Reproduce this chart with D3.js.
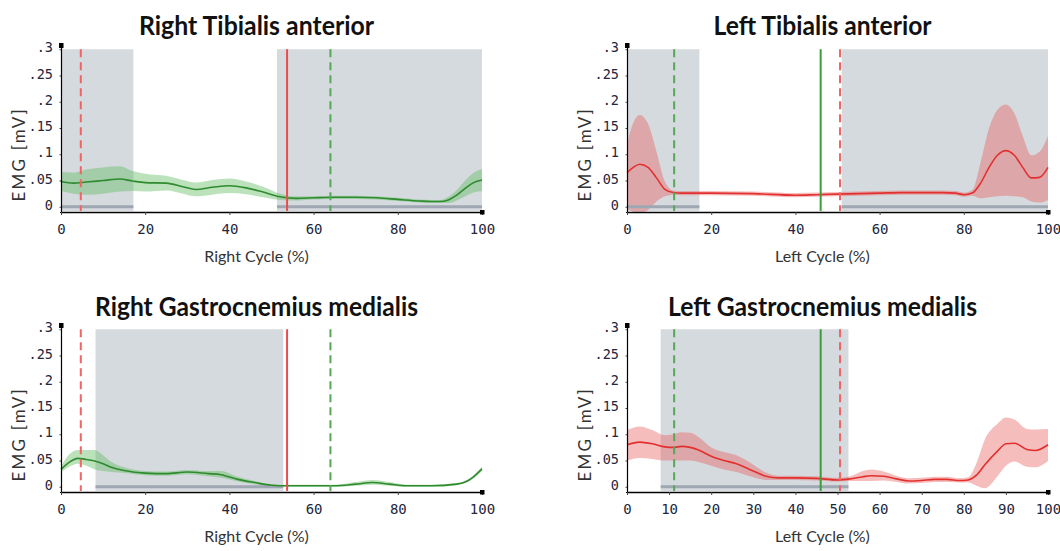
<!DOCTYPE html>
<html>
<head>
<meta charset="utf-8">
<script src="https://cdn.jsdelivr.net/npm/d3@7"></script>
<style>
  body { margin: 0; background: #fff; }
  svg { display: block; }
  .title { font-family: Lato, "Open Sans", sans-serif; font-weight: bold; fill: #111; }
  .axlabel { font-family: Lato, "Open Sans", sans-serif; fill: #333; }
  .tick text { font-family: "DejaVu Sans Mono", monospace; fill: #23263c; }
</style>
</head>
<body>
<svg id="chart"></svg>
<script>
// ---- data ----
const yTicks = [0, 0.05, 0.1, 0.15, 0.2, 0.25, 0.3];
const yTickLabels = ["0", ".05", ".1", ".15", ".2", ".25", ".3"];
const xTicksTA = [0, 20, 40, 60, 80, 100];
const xTicksLGM = [0, 10, 20, 30, 40, 50, 60, 70, 80, 90, 100];

// Right Tibialis anterior
const rtaPct  = [0, 3, 6, 10, 14, 17, 20, 25, 29, 32, 36, 40, 44, 48, 52, 56, 60, 65, 70, 75, 80, 85, 88, 90, 92, 94, 96, 98, 100];
const rtaMean = [.048,.045,.047,.050,.053,.049,.046,.045,.038,.033,.037,.040,.036,.028,.019,.016,.017,.018,.018,.017,.014,.011,.010,.010,.013,.022,.035,.046,.051];
const rtaLow  = [.030,.025,.023,.025,.029,.030,.029,.031,.025,.020,.023,.026,.024,.018,.013,.012,.014,.015,.015,.014,.011,.008,.007,.007,.007,.012,.020,.027,.030];
const rtaHigh = [.066,.065,.071,.075,.077,.068,.063,.059,.051,.046,.051,.054,.048,.038,.025,.020,.020,.021,.021,.020,.017,.014,.013,.013,.019,.032,.050,.065,.072];

// Left Tibialis anterior
const ltaPct  = [0, 1.5, 3, 5, 7, 9, 11, 13, 16, 20, 30, 40, 45, 50, 55, 60, 65, 70, 75, 78, 80, 82, 84, 86, 88, 90, 92, 94, 96, 98, 100];
const ltaMean = [.065,.075,.081,.075,.055,.033,.027,.026,.026,.026,.025,.022,.023,.024,.025,.026,.027,.027,.027,.026,.023,.026,.045,.075,.098,.107,.098,.075,.055,.056,.075];
const ltaLow  = [-.004,-.010,-.012,-.006,.010,.020,.023,.022,.022,.022,.021,.018,.019,.020,.021,.022,.023,.023,.023,.022,.019,.021,.016,.018,.020,.021,.020,.018,.010,.008,.013];
const ltaHigh = [.120,.160,.175,.158,.105,.048,.031,.030,.030,.030,.029,.026,.027,.028,.029,.030,.031,.031,.031,.030,.027,.032,.085,.150,.185,.195,.178,.135,.098,.105,.135];

// Right Gastrocnemius medialis
const rgmPct  = [0, 2, 4, 6, 8, 10, 12, 15, 20, 25, 30, 35, 38, 42, 46, 50, 54, 60, 65, 70, 74, 78, 82, 88, 94, 96, 98, 100];
const rgmMean = [.033,.047,.054,.052,.049,.044,.037,.031,.026,.025,.028,.025,.023,.014,.008,.003,.002,.002,.002,.005,.008,.005,.002,.002,.005,.009,.019,.034];
const rgmLow  = [.028,.038,.044,.040,.033,.030,.028,.026,.022,.021,.024,.020,.017,.010,.005,.001,.000,.000,.000,.002,.004,.002,.000,.000,.003,.007,.016,.030];
const rgmHigh = [.039,.062,.070,.070,.070,.060,.047,.037,.030,.029,.032,.030,.030,.019,.011,.005,.004,.004,.004,.009,.013,.009,.004,.004,.007,.011,.022,.038];

// Left Gastrocnemius medialis
const lgmPct  = [0, 3, 6, 9, 11, 13, 15, 17, 20, 23, 26, 30, 33, 36, 40, 45, 50, 53, 56, 58, 61, 64, 67, 70, 73, 76, 79, 81, 83, 85, 88, 90, 92, 95, 97, 100];
const lgmMean = [.080,.085,.082,.076,.075,.077,.075,.070,.058,.050,.044,.030,.020,.017,.017,.016,.013,.015,.019,.021,.020,.015,.011,.012,.014,.014,.012,.013,.022,.042,.068,.082,.083,.071,.069,.080];
const lgmLow  = [.050,.055,.053,.050,.050,.050,.050,.047,.040,.033,.028,.018,.013,.013,.013,.012,.010,.011,.011,.011,.012,.009,.006,.007,.009,.009,.008,.008,.002,-.003,.020,.040,.048,.038,.037,.049];
const lgmHigh = [.108,.115,.108,.098,.100,.104,.103,.095,.075,.066,.060,.042,.027,.021,.021,.020,.017,.020,.030,.033,.029,.021,.016,.017,.019,.019,.016,.018,.045,.090,.120,.132,.128,.110,.109,.110];

// gait events (% cycle) and stance shading
const rightShadesTA = [[0, 17.2], [51.3, 100]];
const leftShadesTA  = [[0, 17.2], [51, 100]];
const rightShadesGM = [[8.2, 52.8]];
const leftShadesGM  = [[8, 52.6]];
const rightEvents = {redDash: 4.7, redSolid: 53.7, greenDash: 64};
const leftEvents  = {greenDash: 11.2, greenSolid: 46, redDash: 50.6};

const panels = [
  {title: "Right Tibialis anterior", titleW: 235, titleY: -9, xlab: "Right Cycle (%)", left: 61, top: 44, color: "green",
   pct: rtaPct, mean: rtaMean, low: rtaLow, high: rtaHigh, shades: rightShadesTA, ev: rightEvents, xt: xTicksTA},
  {title: "Left Tibialis anterior", titleW: 218, titleY: -9, xlab: "Left Cycle (%)", left: 627, top: 44, color: "red",
   pct: ltaPct, mean: ltaMean, low: ltaLow, high: ltaHigh, shades: leftShadesTA, ev: leftEvents, xt: xTicksTA},
  {title: "Right Gastrocnemius medialis", titleW: 323, titleY: -8, xlab: "Right Cycle (%)", left: 61, top: 324, color: "green",
   pct: rgmPct, mean: rgmMean, low: rgmLow, high: rgmHigh, shades: rightShadesGM, ev: rightEvents, xt: xTicksTA},
  {title: "Left Gastrocnemius medialis", titleW: 309, titleY: -8, xlab: "Left Cycle (%)", left: 627, top: 324, color: "red",
   pct: lgmPct, mean: lgmMean, low: lgmLow, high: lgmHigh, shades: leftShadesGM, ev: leftEvents, xt: xTicksLGM}
];

const palette = {
  green: {line: "#2e8b2e", band: "rgba(95,185,95,0.42)"},
  red:   {line: "#e2302f", band: "rgba(232,90,90,0.40)"}
};

const W = 1060, H = 551;
const pw = 421, ph = 168;

const svg = d3.select("#chart").attr("width", W).attr("height", H);

panels.forEach((p, i) => {
  const g = svg.append("g").attr("transform", `translate(${p.left},${p.top})`);

  const x = d3.scaleLinear().domain([0, 100]).range([0, pw]);
  const y = d3.scaleLinear().domain([-0.01, 0.31]).range([ph, 0]);

  g.append("clipPath").attr("id", "clip" + i)
    .append("rect").attr("width", pw).attr("height", ph);

  // stance shading
  g.selectAll(".shade").data(p.shades).join("rect")
    .attr("class", "shade")
    .attr("x", d => x(d[0]))
    .attr("width", d => x(d[1]) - x(d[0]))
    .attr("y", y(0.3))
    .attr("height", y(-0.008) - y(0.3))
    .attr("fill", "#d5dade");

  const pts = p.pct.map((v, k) => ({x: v, m: p.mean[k], lo: p.low[k], hi: p.high[k]}));
  const col = palette[p.color];

  g.append("path").datum(pts)
    .attr("clip-path", `url(#clip${i})`)
    .attr("fill", col.band)
    .attr("d", d3.area().curve(d3.curveMonotoneX)
      .x(d => x(d.x)).y0(d => y(d.lo)).y1(d => y(d.hi)));

  // zero bar in shaded region
  g.selectAll(".zbar").data(p.shades).join("rect")
    .attr("class", "zbar")
    .attr("x", d => x(d[0]))
    .attr("width", d => x(d[1]) - x(d[0]))
    .attr("y", y(0) - 1.5)
    .attr("height", 3)
    .attr("fill", "#9ea7b2");

  g.append("path").datum(pts)
    .attr("fill", "none")
    .attr("stroke", col.line)
    .attr("stroke-width", 1.6)
    .attr("d", d3.line().curve(d3.curveMonotoneX).x(d => x(d.x)).y(d => y(d.m)));

  // gait event lines
  const evLines = [];
  if (p.ev.redDash != null) evLines.push({v: p.ev.redDash, c: "#f06464", dash: "8,5"});
  if (p.ev.redSolid != null) evLines.push({v: p.ev.redSolid, c: "#ee4a4a", dash: null});
  if (p.ev.greenDash != null) evLines.push({v: p.ev.greenDash, c: "#56a856", dash: "8,5"});
  if (p.ev.greenSolid != null) evLines.push({v: p.ev.greenSolid, c: "#3c9c3c", dash: null});
  g.selectAll(".ev").data(evLines).join("line")
    .attr("class", "ev")
    .attr("x1", d => x(d.v)).attr("x2", d => x(d.v))
    .attr("y1", y(0.3)).attr("y2", y(-0.008))
    .attr("stroke", d => d.c)
    .attr("stroke-width", 2)
    .attr("stroke-dasharray", d => d.dash);

  // axes
  const yAxis = d3.axisLeft(y).tickValues(yTicks)
    .tickFormat((d, k) => yTickLabels[k]).tickSize(1).tickPadding(7);
  const yg = g.append("g").call(yAxis);
  yg.select(".domain").attr("stroke", "#000").attr("stroke-width", 1.2);
  yg.selectAll(".tick line").attr("stroke", "#444").attr("x2", -1.5);
  yg.selectAll(".tick text").attr("font-size", 13.5).attr("dy", "0.2em");

  const xAxis = d3.axisBottom(x).tickValues(p.xt).tickSize(3).tickPadding(9).tickSizeOuter(0);
  const xg = g.append("g").attr("transform", `translate(0,${ph})`).call(xAxis);
  xg.select(".domain").attr("stroke", "#000").attr("stroke-width", 1.5);
  xg.selectAll(".tick line").attr("stroke", "#444");
  xg.selectAll(".tick text").attr("font-size", 14);

  // end markers
  g.append("rect").attr("x", -2).attr("y", -1).attr("width", 4.5).attr("height", 5).attr("fill", "#000");
  g.append("rect").attr("x", pw - 2).attr("y", ph - 2).attr("width", 4.5).attr("height", 4.5).attr("fill", "#000");

  // titles and labels
  const cx = pw / 2 - 15;
  g.append("text").attr("class", "title")
    .attr("x", cx).attr("y", p.titleY)
    .attr("text-anchor", "middle")
    .attr("font-size", 26)
    .attr("textLength", p.titleW)
    .attr("lengthAdjust", "spacingAndGlyphs")
    .text(p.title);

  g.append("text").attr("class", "axlabel")
    .attr("x", cx).attr("y", ph + 50)
    .attr("text-anchor", "middle")
    .attr("font-size", 16)
    .text(p.xlab);

  g.append("text").attr("class", "axlabel")
    .attr("transform", `translate(-36,${y(0.1)}) rotate(-90)`)
    .attr("text-anchor", "middle")
    .attr("font-size", 17)
    .attr("letter-spacing", 2.2)
    .text("EMG [mV]");
});
</script>
</body>
</html>
